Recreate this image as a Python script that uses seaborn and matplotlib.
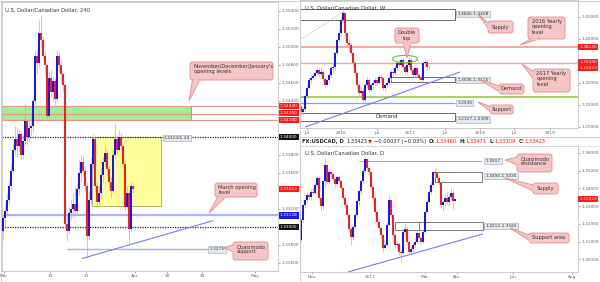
import matplotlib
matplotlib.use("Agg")
import matplotlib.pyplot as plt
import seaborn as sns
import numpy as np
import pandas as pd
from matplotlib.patches import Rectangle, FancyBboxPatch, Polygon, Ellipse

# ---------------- data ----------------
# 4H chart
h4_first_open = 1.3295
h4_close = [1.3310, 1.3318, 1.3330, 1.3345, 1.3362, 1.3386, 1.3398, 1.3390, 1.3403, 1.3380,
            1.3395, 1.3418, 1.3400, 1.3410, 1.3412, 1.3440, 1.3490, 1.3482, 1.3515, 1.3508,
            1.3490, 1.3480, 1.3423, 1.3465, 1.3450, 1.3462, 1.3442, 1.3490, 1.3480, 1.3470,
            1.3458, 1.3303, 1.3296, 1.3315, 1.3320, 1.3325, 1.3318, 1.3342, 1.3360, 1.3372,
            1.3362, 1.3345, 1.3290, 1.3330, 1.3370, 1.3398, 1.3345, 1.3328, 1.3338, 1.3358,
            1.3372, 1.3382, 1.3364, 1.3350, 1.3340, 1.3380, 1.3398, 1.3386, 1.3400, 1.3390,
            1.3370, 1.3322, 1.3338, 1.3298, 1.3345, 1.3342]
h4_high = [1.3315, 1.3325, 1.3338, 1.3352, 1.3370, 1.3392, 1.3412, 1.3410, 1.3408, 1.3405,
           1.3402, 1.3438, 1.3420, 1.3418, 1.3425, 1.3445, 1.3495, 1.3498, 1.3530, 1.3535,
           1.3512, 1.3495, 1.3482, 1.3472, 1.3475, 1.3468, 1.3465, 1.3497, 1.3494, 1.3485,
           1.3472, 1.3460, 1.3312, 1.3322, 1.3330, 1.3338, 1.3345, 1.3348, 1.3375, 1.3380,
           1.3378, 1.3368, 1.3350, 1.3340, 1.3378, 1.3403, 1.3400, 1.3350, 1.3345, 1.3365,
           1.3378, 1.3390, 1.3386, 1.3368, 1.3355, 1.3386, 1.3414, 1.3402, 1.3408, 1.3404,
           1.3392, 1.3372, 1.3345, 1.3342, 1.3350, 1.3347]
h4_low = [1.3285, 1.3300, 1.3312, 1.3325, 1.3340, 1.3360, 1.3380, 1.3378, 1.3385, 1.3375,
          1.3376, 1.3390, 1.3392, 1.3395, 1.3402, 1.3405, 1.3435, 1.3470, 1.3478, 1.3500,
          1.3485, 1.3470, 1.3420, 1.3420, 1.3445, 1.3440, 1.3435, 1.3440, 1.3472, 1.3460,
          1.3450, 1.3298, 1.3284, 1.3292, 1.3308, 1.3310, 1.3312, 1.3315, 1.3335, 1.3350,
          1.3355, 1.3340, 1.3266, 1.3285, 1.3325, 1.3365, 1.3340, 1.3322, 1.3322, 1.3330,
          1.3350, 1.3365, 1.3358, 1.3342, 1.3332, 1.3338, 1.3375, 1.3380, 1.3384, 1.3385,
          1.3365, 1.3318, 1.3320, 1.3280, 1.3295, 1.3338]
h4_xticks = ["Mar", "13", "21", "Apr", "10", "18", "May"]
h4_yticks = [1.354, 1.352, 1.350, 1.348, 1.346, 1.344, 1.338, 1.336, 1.332, 1.328, 1.326]

# Weekly chart
w_first_open = 1.2450
w_close = [1.2330, 1.2400, 1.2700, 1.2880, 1.3060, 1.3100, 1.3150, 1.3210, 1.3280, 1.3200,
           1.3240, 1.3080, 1.2940, 1.3050, 1.3170, 1.3330, 1.3350, 1.3670, 1.3970, 1.4125,
           1.4420, 1.4580, 1.4125, 1.3900, 1.3850, 1.3670, 1.3440, 1.3210, 1.2940, 1.2760,
           1.2800, 1.2600, 1.2940, 1.3060, 1.2830, 1.2940, 1.2990, 1.3060, 1.3000, 1.3120,
           1.3100, 1.2870, 1.2940, 1.3000, 1.3100, 1.3240, 1.3220, 1.3330, 1.3440, 1.3400,
           1.3510, 1.3350, 1.3240, 1.3400, 1.3510, 1.3280, 1.3170, 1.3330, 1.3170, 1.3100,
           1.3060, 1.3440, 1.3470, 1.3345, 1.3342]
w_high = [1.2500, 1.2450, 1.2750, 1.2950, 1.3120, 1.3180, 1.3220, 1.3260, 1.3350, 1.3320,
          1.3360, 1.3280, 1.3120, 1.3100, 1.3230, 1.3380, 1.3450, 1.3720, 1.4020, 1.4200,
          1.4500, 1.4690, 1.4610, 1.4180, 1.4000, 1.3920, 1.3700, 1.3480, 1.3250, 1.3000,
          1.2900, 1.2850, 1.2980, 1.3120, 1.3100, 1.3000, 1.3050, 1.3120, 1.3100, 1.3180,
          1.3200, 1.3140, 1.3000, 1.3060, 1.3150, 1.3280, 1.3320, 1.3400, 1.3500, 1.3520,
          1.3580, 1.3550, 1.3400, 1.3450, 1.3580, 1.3550, 1.3340, 1.3380, 1.3360, 1.3220,
          1.3180, 1.3500, 1.3540, 1.3520, 1.3400]
w_low = [1.2280, 1.2260, 1.2360, 1.2650, 1.2850, 1.3000, 1.3050, 1.3100, 1.3180, 1.3140,
         1.3160, 1.3020, 1.2890, 1.2910, 1.3000, 1.3120, 1.3250, 1.3300, 1.3620, 1.3920,
         1.4050, 1.4350, 1.4050, 1.3800, 1.3720, 1.3600, 1.3350, 1.3150, 1.2880, 1.2700,
         1.2660, 1.2560, 1.2520, 1.2880, 1.2780, 1.2800, 1.2850, 1.2920, 1.2920, 1.2960,
         1.3020, 1.2820, 1.2800, 1.2880, 1.2950, 1.3050, 1.3150, 1.3180, 1.3280, 1.3350,
         1.3360, 1.3300, 1.3180, 1.3200, 1.3360, 1.3220, 1.3120, 1.3120, 1.3100, 1.3050,
         1.3000, 1.3040, 1.3350, 1.3290, 1.3300]
w_xticks = ["Jul", "2016", "Jul", "2017", "Jul", "2018", "Jul", "2019"]
w_yticks = [1.45, 1.40, 1.30, 1.25, 1.20]

# Daily chart
d_first_open = 1.3108
d_close = [1.3221, 1.3306, 1.3334, 1.3363, 1.3350, 1.3380, 1.3375, 1.3419, 1.3459, 1.3346,
           1.3300, 1.3440, 1.3532, 1.3436, 1.3493, 1.3480, 1.3455, 1.3425, 1.3464, 1.3440,
           1.3402, 1.3346, 1.3306, 1.3250, 1.3170, 1.3125, 1.3180, 1.3250, 1.3330, 1.3385,
           1.3440, 1.3500, 1.3565, 1.3515, 1.3490, 1.3408, 1.3346, 1.3267, 1.3210, 1.3176,
           1.3137, 1.3063, 1.3080, 1.3193, 1.3335, 1.3250, 1.3137, 1.3080, 1.3085, 1.3041,
           1.3035, 1.3154, 1.3170, 1.3097, 1.3041, 1.3060, 1.3080, 1.3097, 1.3148, 1.3120,
           1.3097, 1.3154, 1.3267, 1.3323, 1.3380, 1.3420, 1.3493, 1.3487, 1.3460, 1.3430,
           1.3306, 1.3323, 1.3346, 1.3323, 1.3352, 1.3374, 1.3330, 1.3342]
d_high = [1.3230, 1.3315, 1.3350, 1.3380, 1.3375, 1.3395, 1.3400, 1.3430, 1.3470, 1.3465,
          1.3350, 1.3450, 1.3570, 1.3540, 1.3505, 1.3500, 1.3490, 1.3462, 1.3475, 1.3475,
          1.3450, 1.3410, 1.3355, 1.3315, 1.3260, 1.3180, 1.3190, 1.3260, 1.3340, 1.3395,
          1.3450, 1.3510, 1.3580, 1.3570, 1.3525, 1.3495, 1.3415, 1.3355, 1.3280, 1.3225,
          1.3185, 1.3145, 1.3095, 1.3210, 1.3363, 1.3340, 1.3260, 1.3150, 1.3110, 1.3095,
          1.3060, 1.3165, 1.3200, 1.3180, 1.3105, 1.3075, 1.3095, 1.3120, 1.3165, 1.3160,
          1.3130, 1.3170, 1.3280, 1.3335, 1.3390, 1.3435, 1.3500, 1.3515, 1.3495, 1.3470,
          1.3440, 1.3335, 1.3370, 1.3385, 1.3365, 1.3400, 1.3390, 1.3347]
d_low = [1.3100, 1.3210, 1.3290, 1.3320, 1.3335, 1.3340, 1.3360, 1.3370, 1.3410, 1.3335,
         1.3270, 1.3285, 1.3410, 1.3425, 1.3430, 1.3465, 1.3440, 1.3410, 1.3415, 1.3430,
         1.3395, 1.3335, 1.3290, 1.3240, 1.3160, 1.3080, 1.3110, 1.3170, 1.3240, 1.3300,
         1.3370, 1.3430, 1.3490, 1.3505, 1.3475, 1.3395, 1.3330, 1.3250, 1.3195, 1.3160,
         1.3120, 1.3040, 1.3050, 1.3075, 1.3185, 1.3240, 1.3125, 1.3065, 1.3060, 1.3025,
         1.2984, 1.3030, 1.3140, 1.3085, 1.3030, 1.3020, 1.3040, 1.3070, 1.3090, 1.3110,
         1.3085, 1.3090, 1.3150, 1.3260, 1.3315, 1.3370, 1.3415, 1.3465, 1.3450, 1.3420,
         1.3290, 1.3270, 1.3300, 1.3310, 1.3300, 1.3335, 1.3285, 1.3325]
d_xticks = ["Nov", "2017", "Mar", "Apr", "Jun", "Aug"]
d_yticks = [1.36, 1.35, 1.34, 1.33, 1.32, 1.31, 1.30]

last_price = 1.33423
h4_levels = [1.3434, 1.3425, 1.3419]   # Nov/Dec/Jan opening levels
h4_round = [1.3400, 1.3300]
h4_march_open = 1.33128
h4_qm = 1.3275
h4_box = (1.3323, 1.3400)
w_level_2016 = 1.3814
w_level_2017 = 1.3434
w_supply = (1.4428, 1.4666)
w_demand1 = (1.3006, 1.3115)
w_support = 1.2530
w_green = 1.2670
w_demand2 = (1.2127, 1.2309)
d_qm = 1.3557
d_supply = (1.3435, 1.3494)
d_support = (1.3165, 1.3212)

# ---------------- style ----------------
sns.set_theme(style="white")
plt.rcParams['font.family'] = ['DejaVu Sans']

BLUE = "#1414ff"
RED = "#ff1a1a"
WICK = "#b4b4b4"
PINK = "#f6c5c6"
PINKE = "#e58a8c"
TXT = "#333333"
TICK = "#666666"
FS = 3.1

fig = plt.figure(figsize=(6.0, 2.82), dpi=100)
fig.patch.set_facecolor("white")

axL = fig.add_axes([2/600, 11/282, 276/600, 269/282])
axW = fig.add_axes([300/600, 154/282, 278/600, 128/282])
axD = fig.add_axes([300/600, 10/282, 278/600, 126/282])


def candles(ax, first_open, close, high, low, width, minh):
    opens = [first_open] + list(close[:-1])
    df = pd.DataFrame({"x": np.arange(len(close)), "o": opens, "c": close, "h": high, "l": low})
    ax.vlines(df.x, df.l, df.h, color=WICK, lw=0.5, zorder=3)
    up = df.c >= df.o
    cols = np.where(up, BLUE, RED)
    hgt = np.maximum((df.c - df.o).abs(), minh)
    ax.bar(df.x, hgt, bottom=np.minimum(df.o, df.c), width=width, color=cols,
           linewidth=0, zorder=4)


def style(ax, ylim, xlim, yticks, xtpos, xtlab):
    ax.set_ylim(*ylim)
    ax.set_xlim(*xlim)
    ax.yaxis.tick_right()
    ax.set_yticks(yticks)
    ax.set_yticklabels([f"{v:.5f}" for v in yticks])
    ax.set_xticks(xtpos)
    ax.set_xticklabels(xtlab)
    ax.tick_params(axis="both", labelsize=FS, colors=TICK, length=1.5, width=0.4, pad=1.0,
                   bottom=True, right=True)
    for s in ax.spines.values():
        s.set_color("#c4c4c4")
        s.set_linewidth(0.6)
    ax.set_facecolor("white")
    ax.grid(False)


def tag(ax, y, txt, fc, xa=1.007, ydisp=None):
    ax.text(xa, y if ydisp is None else ydisp, txt, transform=ax.get_yaxis_transform(),
            fontsize=FS, color="white", va="center", ha="left", clip_on=False, zorder=12,
            bbox=dict(boxstyle="square,pad=0.25", fc=fc, ec="none"))


def lbl(ax, x, y, txt):
    ax.text(x, y, txt, fontsize=FS, color=TXT, va="center", ha="left", zorder=11,
            bbox=dict(boxstyle="square,pad=0.25", fc="#e4e9f0", ec="#9aa3ad", lw=0.4))


# ---------------- 4H panel ----------------
style(axL, (1.32511, 1.3550), (-0.5, 137.5), h4_yticks,
      [0.5, 23.5, 41.5, 66, 82, 99.5, 126], h4_xticks)
axL.add_patch(Rectangle((-0.5, h4_levels[2]), 94.5, h4_levels[0] - h4_levels[2],
                        fc="#9df28f", ec="#6fae62", lw=0.6, zorder=1))
for lv in h4_levels:
    axL.axhline(lv, color="#f08f8f", lw=0.8, zorder=2)
axL.add_patch(Rectangle((44.5, h4_box[0]), 34.5, h4_box[1] - h4_box[0],
                        fc="#ffff9c", ec="#a8a860", lw=0.6, zorder=1))
axL.axhline(h4_march_open, color="#aab2ff", lw=1.6, zorder=2)
for lv in h4_round:
    axL.axhline(lv, color="#222222", lw=0.9, ls=(0, (1, 1)), zorder=2)
sns.lineplot(x=[32, 102.5], y=[h4_qm, h4_qm], ax=axL, color="#a8aeff", lw=1.0, zorder=2)
sns.lineplot(x=[39.5, 105], y=[1.3265, 1.3307], ax=axL, color="#7a7aff", lw=0.8, zorder=2)
candles(axL, h4_first_open, h4_close, h4_high, h4_low, 0.95, 0.00012)
lbl(axL, 103.2, h4_qm, "1.3275")
lbl(axL, 80.3, 1.3399, "1.3323/1.34")
axL.text(0.011, 0.972, "U.S. Dollar/Canadian Dollar, 240", transform=axL.transAxes,
         fontsize=3.8, color=TXT, va="center", ha="left")
tag(axL, h4_levels[0], "1.34340", RED)
tag(axL, h4_levels[1], "1.34250", RED, ydisp=1.34265)
tag(axL, h4_levels[2], "1.34190", RED, ydisp=1.34185)
tag(axL, h4_round[0], "1.34000", "#111111")
tag(axL, last_price, "1.33423", RED)
tag(axL, h4_march_open, "1.33128", "#1a1aff")
tag(axL, h4_round[1], "1.33000", "#111111")

# ---------------- Weekly panel ----------------
style(axW, (1.1966, 1.4875), (-0.5, 138.5), w_yticks,
      [3, 20, 38, 54.5, 72, 89.5, 106.5, 124.5], w_xticks)
axW.add_patch(Rectangle((-0.5, w_supply[0]), 77.5, w_supply[1] - w_supply[0],
                        fc="white", ec="#555555", lw=0.6, zorder=1))
axW.add_patch(Rectangle((45, w_demand1[0]), 32, w_demand1[1] - w_demand1[0],
                        fc="white", ec="#555555", lw=0.6, zorder=1))
axW.add_patch(Rectangle((-0.5, w_demand2[0]), 77.5, w_demand2[1] - w_demand2[0],
                        fc="white", ec="#555555", lw=0.6, zorder=1))
axW.text(43, (w_demand2[0] + w_demand2[1]) / 2, "Demand", fontsize=3.8, color=TXT,
         ha="center", va="center", zorder=5)
axW.axhline(w_level_2016, color="#f5a3a3", lw=1.3, zorder=2)
axW.axhline(w_level_2017, color="#f5a3a3", lw=1.0, zorder=2)
axW.axhline(w_green, color="#9bcc3a", lw=1.2, zorder=2)
sns.lineplot(x=[-0.5, 77], y=[w_support, w_support], ax=axW, color="#8e98ff", lw=0.9, zorder=2)
sns.lineplot(x=[2, 79.5], y=[1.1989, 1.3239], ax=axW, color="#7a7aff", lw=0.8, zorder=2)
sns.lineplot(x=[-0.5, 21], y=[1.3966, 1.4602], ax=axW, color="#999999", lw=0.6,
             ls=(0, (1, 1.5)), zorder=2)
candles(axW, w_first_open, w_close, w_high, w_low, 1.0, 0.0012)
axW.add_patch(Ellipse((52, 1.3534), 12.5, 0.0165, fc="none", ec="#62c43a", lw=0.8, zorder=6))
lbl(axW, 78.2, 1.4552, "1.4666-1.4428")
lbl(axW, 78.2, 1.3058, "1.3006-1.3115")
lbl(axW, 78.2, 1.2540, "1.2530")
lbl(axW, 78.2, 1.2160, "1.2127-1.2309")
axW.text(0.018, 0.934, "U.S. Dollar/Canadian Dollar, W", transform=axW.transAxes,
         fontsize=3.8, color=TXT, va="center", ha="left")
tag(axW, w_level_2016, "1.38140", RED, xa=1.004)
tag(axW, w_level_2017, "1.34340", RED, xa=1.004, ydisp=1.3470)
tag(axW, last_price, "1.33423", RED, xa=1.004, ydisp=1.3325)

# ---------------- Daily panel ----------------
style(axD, (1.29277, 1.36395), (-0.5, 138.5), d_yticks,
      [5.5, 34.5, 62, 78, 106, 135.5], d_xticks)
sns.lineplot(x=[29, 90.5], y=[d_qm, d_qm], ax=axD, color="#f08f8f", lw=0.8, zorder=2)
axD.add_patch(Rectangle((67, d_supply[0]), 23.5, d_supply[1] - d_supply[0],
                        fc="white", ec="#666666", lw=0.6, zorder=1))
axD.add_patch(Rectangle((47, d_support[0]), 44, d_support[1] - d_support[0],
                        fc="white", ec="#666666", lw=0.6, zorder=1))
axD.vlines([59], d_support[0], d_support[1], color="#666666", lw=0.6, zorder=1)
sns.lineplot(x=[23.5, 91], y=[1.2928, 1.3143], ax=axD, color="#7a7aff", lw=0.8, zorder=2)
candles(axD, d_first_open, d_close, d_high, d_low, 1.0, 0.0003)
lbl(axD, 92.2, d_qm, "1.3557")
lbl(axD, 92.2, 1.3468, "1.3494-1.3435")
lbl(axD, 92.2, 1.3188, "1.3212-1.3165")
axD.text(0.018, 0.945, "U.S. Dollar/Canadian Dollar, D", transform=axD.transAxes,
         fontsize=3.8, color=TXT, va="center", ha="left")
tag(axD, last_price, "1.33423", RED, xa=1.004)

for ax in (axL, axW, axD):
    for l in ax.get_lines():
        l.set_solid_capstyle("butt")
    if ax.get_legend() is not None:
        ax.get_legend().remove()

# ---------------- overlay: callouts, frames, info bar ----------------
ov = fig.add_axes([0, 0, 1, 1], zorder=20)
ov.set_xlim(0, 600)
ov.set_ylim(282, 0)
ov.axis("off")
ov.patch.set_alpha(0)

# panel frames
ov.plot([299.5, 299.5], [0, 282], color="#c8c8c8", lw=0.6)
ov.plot([300, 600], [137, 137], color="#c8c8c8", lw=0.6)
ov.plot([300, 600], [145.5, 145.5], color="#dcdcdc", lw=0.5)
ov.plot([0.5, 0.5], [0, 282], color="#c8c8c8", lw=0.6)
ov.plot([0, 600], [281.5, 281.5], color="#c8c8c8", lw=0.6)
ov.plot([0, 600], [0.5, 0.5], color="#c8c8c8", lw=0.6)
ov.plot([599.5, 599.5], [0, 282], color="#c8c8c8", lw=0.6)


def callout(box, base, tip, text, center=False):
    x0, y0, x1, y1 = box
    ov.add_patch(FancyBboxPatch((x0, y0), x1 - x0, y1 - y0,
                                boxstyle="round,pad=0,rounding_size=2.5",
                                fc=PINK, ec=PINKE, lw=0.6, zorder=30))
    ov.add_patch(Polygon([base[0], tip, base[1]], closed=False, fc=PINK, ec=PINKE,
                         lw=0.6, zorder=31))
    (bx0, by0), (bx1, by1) = base
    ov.plot([bx0, bx1], [by0, by1], color=PINK, lw=0.9, zorder=32)
    if center:
        ov.text((x0 + x1) / 2, (y0 + y1) / 2, text, fontsize=3.7, color=TXT,
                ha="center", va="center", zorder=33, linespacing=1.05)
    else:
        ov.text(x0 + 3.5, y0 + 2.2, text, fontsize=3.7, color=TXT, ha="left", va="top",
                zorder=33, linespacing=1.05)


callout((190, 62, 273, 80), [(192.5, 79.5), (200, 79.5)], (189, 101),
        "November/December/January's\nopening levels")
callout((215, 183, 257, 197), [(218, 196.6), (226, 196.6)], (209, 213),
        "March opening\nlevel")
callout((233, 242, 268, 260), [(233.4, 244.5), (233.4, 252)], (224, 248),
        "Quasimodo\nsupport")
callout((395, 28, 419, 43), [(403, 42.6), (411, 42.6)], (407, 58), "Double\ntop", center=True)
callout((488, 21, 513, 33), [(488.4, 23), (488.4, 29)], (478, 14), "Supply", center=True)
callout((528, 17, 565, 39), [(531, 38.6), (540, 38.6)], (520, 45),
        "2016 Yearly\nopening\nlevel")
callout((533, 69, 570, 92), [(533.4, 71.5), (533.4, 79)], (522, 64),
        "2017 Yearly\nopening\nlevel")
callout((499, 84, 524, 94), [(499.4, 86), (499.4, 91.5)], (478, 79), "Demand", center=True)
callout((490, 105, 513, 114), [(490.4, 106.5), (490.4, 111.5)], (478, 102), "Support",
        center=True)
callout((517, 154, 552, 172), [(517.4, 157), (517.4, 165)], (505, 160),
        "Quasimodo\nresistance")
callout((533, 183, 558, 194), [(533.4, 185), (533.4, 191)], (505, 178), "Supply", center=True)
callout((529, 233, 569, 243), [(529.4, 235), (529.4, 240.5)], (510, 228), "Support area",
        center=True)

# info bar
fig.canvas.draw()
rend = fig.canvas.get_renderer()
pieces = [("FX:USDCAD, D", "#222222", "bold"), ("1.33423", "#222222", "normal"),
          ("\u25bc", RED, "normal"), ("\u22120.00037 (\u22120.03%)", "#222222", "normal"),
          ("O:", "#222222", "bold"), ("1.33460", RED, "normal"),
          ("H:", "#222222", "bold"), ("1.33471", RED, "normal"),
          ("L:", "#222222", "bold"), ("1.33309", RED, "normal"),
          ("C:", "#222222", "bold"), ("1.33423", RED, "normal")]
gaps = [2.2, 1.2, 2.2, 2.6, 0.3, 2.2, 0.3, 2.2, 0.3, 2.2, 0.3, 0]
xpos = 302
for (txt, col, wt), g in zip(pieces, gaps):
    t = ov.text(xpos, 141.3, txt, fontsize=3.7, color=col, fontweight=wt,
                ha="left", va="center", zorder=30)
    bb = t.get_window_extent(renderer=rend)
    xpos += bb.width + g

fig.savefig("out.png", dpi=100, facecolor="white")
